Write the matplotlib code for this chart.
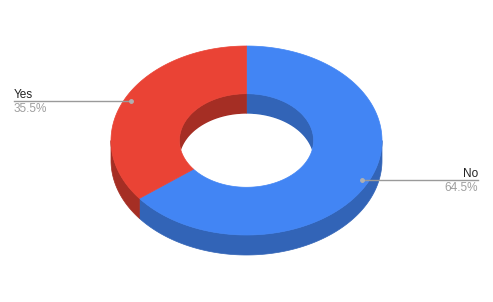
import numpy as np
import matplotlib.pyplot as plt
from matplotlib.patches import Polygon

# Dados
categorias = ['No', 'Yes']
valores = [64.5, 35.5]
cores_topo = ['#4285F4', '#EA4335']
cores_lado = ['#3264B7', '#A52E24']

# Geometria do donut (pixels)
CX, CY = 246.5, 140.5
RX, RY = 135.5, 94.5
FURO = 0.495
ALTURA = 20

plt.rcParams['font.family'] = ['Liberation Sans', 'DejaVu Sans']

fig = plt.figure(figsize=(4.93, 3.02), dpi=100)
ax = fig.add_axes([0, 0, 1, 1])
ax.set_xlim(0, 493)
ax.set_ylim(302, 0)
ax.axis('off')


def ponto(theta, r, dy=0):
    # theta em graus, sentido horario a partir do topo
    t = np.radians(theta)
    return CX + r * RX * np.sin(t), CY - r * RY * np.cos(t) + dy


def arco(t0, t1, r, dy=0, n=200):
    ts = np.linspace(t0, t1, n)
    xs, ys = ponto(ts, r, dy)
    return np.column_stack([xs, ys])


fracoes = np.array(valores) / sum(valores)
limites = np.concatenate([[0], np.cumsum(fracoes) * 360])

# Parede externa (metade da frente, 90..270)
for i in range(len(valores)):
    a0, a1 = max(limites[i], 90), min(limites[i + 1], 270)
    if a1 > a0:
        cima = arco(a0, a1, 1)
        baixo = arco(a1, a0, 1, ALTURA)
        ax.add_patch(Polygon(np.vstack([cima, baixo]), closed=True,
                             facecolor=cores_lado[i], edgecolor=cores_lado[i], lw=0.5))

# Parede interna (metade de tras, -90..90)
for i in range(len(valores)):
    for lo, hi in [(-90, 90), (270, 450)]:
        a0, a1 = max(limites[i], lo), min(limites[i + 1], hi)
        if a1 > a0:
            cima = arco(a0, a1, FURO)
            baixo = arco(a1, a0, FURO, ALTURA)
            ax.add_patch(Polygon(np.vstack([cima, baixo]), closed=True,
                                 facecolor=cores_lado[i], edgecolor=cores_lado[i], lw=0.5))
# Fundo do furo
ax.add_patch(Polygon(np.vstack([arco(90, 270, FURO), arco(270, 450, FURO, ALTURA)]),
                     closed=True, facecolor='white', edgecolor='none', zorder=1.5))

# Face de cima
for i in range(len(valores)):
    fora = arco(limites[i], limites[i + 1], 1)
    dentro = arco(limites[i + 1], limites[i], FURO)
    ax.add_patch(Polygon(np.vstack([fora, dentro]), closed=True,
                         facecolor=cores_topo[i], edgecolor=cores_topo[i], lw=0.5, zorder=2))

# Rotulos com linhas de chamada
for i, cat in enumerate(categorias):
    meio = (limites[i] + limites[i + 1]) / 2
    px, py = ponto(meio, 0.953)
    if px > CX:
        xfim, ha = 478, 'right'
    else:
        xfim, ha = 14, 'left'
    ax.plot([px, xfim], [py, py], color='#9a9a9a', lw=1, zorder=3)
    ax.plot(px, py, 'o', ms=2.5, color='#b0b0b0', zorder=4)
    ax.text(xfim, py - 3, cat, ha=ha, va='baseline', fontsize=8.5, color='#222222')
    ax.text(xfim, py + 11, '{:.1f}%'.format(valores[i]), ha=ha, va='baseline',
            fontsize=8.5, color='#9e9e9e')

fig.savefig('out.png', dpi=100, facecolor='white')
